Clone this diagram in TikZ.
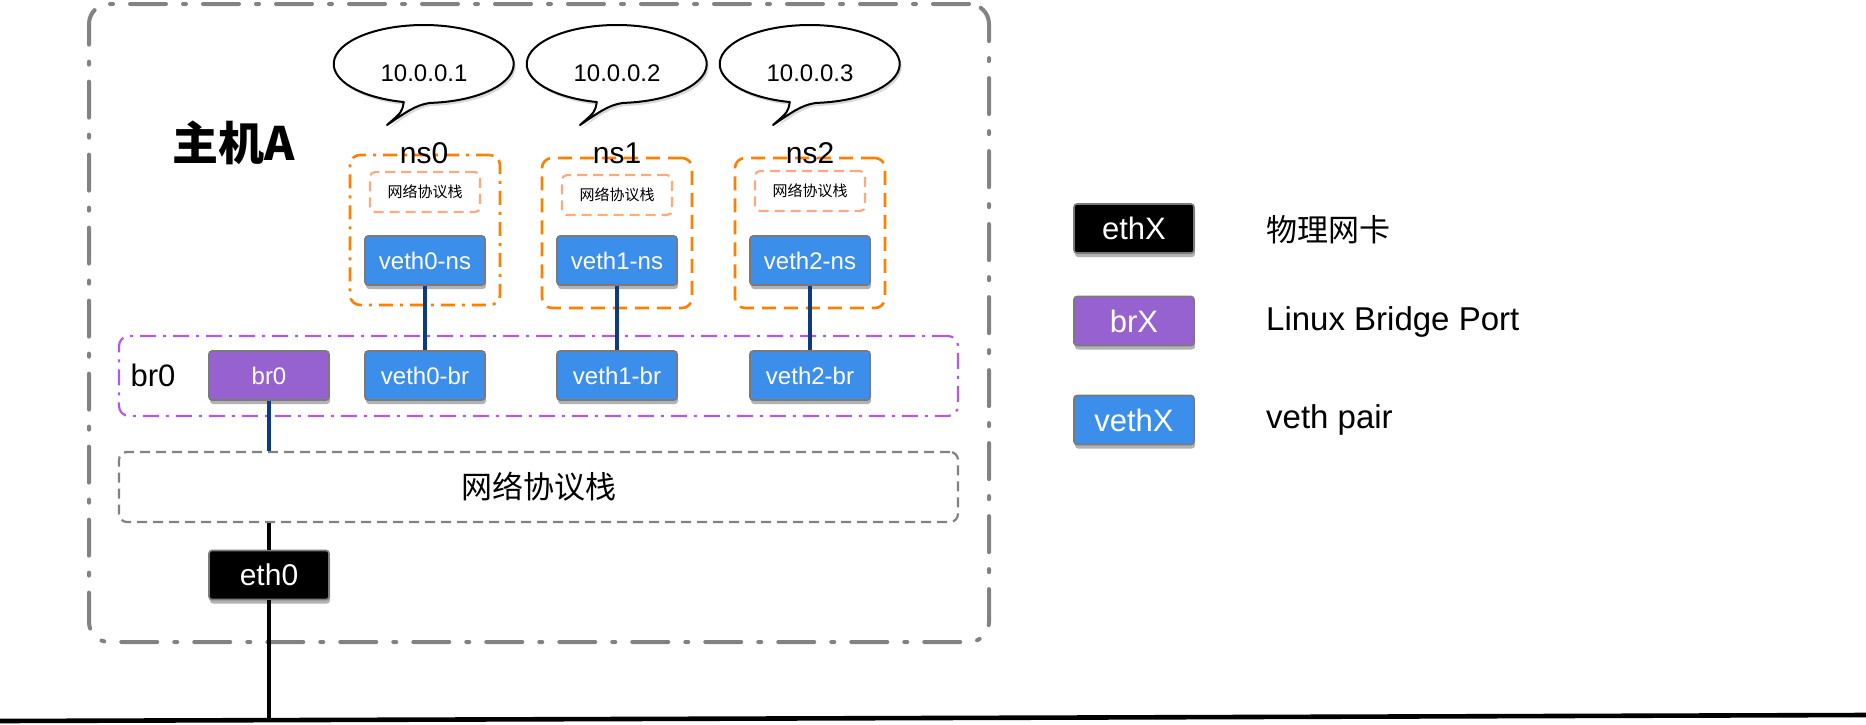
\documentclass[tikz,border=0pt]{standalone}
\usepackage{fontspec}
\setmainfont{Liberation Sans}
\newfontfamily\cjk{Noto Sans CJK SC}
\usetikzlibrary{shadows}
\definecolor{boxblue}{HTML}{3C8EEB}
\definecolor{boxpurple}{HTML}{9562CF}
\definecolor{boxgray}{HTML}{7A7A7A}
\definecolor{hostgray}{HTML}{828282}
\definecolor{nsorange}{HTML}{FF8000}
\definecolor{lightorange}{HTML}{FBAA80}
\definecolor{brpurple}{HTML}{B05BE6}
\definecolor{navy}{HTML}{0B3C7D}
\newcommand\fs[1]{\fontsize{#1}{#1}\selectfont}
\newcommand\ipbubble[3]{%
  \begin{scope}[shift={(#1,64)}]
    \draw[bubble] (6,38.9) arc[start angle=86, end angle=-257.2, x radius=90, y radius=39]
      .. controls (-22,48) .. (-37,61) .. controls (-19,49) and (-9,41) .. cycle;
    \node[iptext] (#2) at (0,9) {#3};
  \end{scope}}
\tikzset{
  port/.style={draw=boxgray, line width=1.6pt, rounded corners=3pt,
    minimum width=120pt, minimum height=49pt, inner sep=0pt, text=white,
    font=\fs{24},
    drop shadow={shadow xshift=1pt, shadow yshift=-4pt, opacity=0.3, fill=black}},
  vethbox/.style={port, fill=boxblue},
  brbox/.style={port, fill=boxpurple},
  ethbox/.style={port, fill=black, font=\fs{30}},
  legbox/.style={port, font=\fs{31}},
  hostbox/.style={draw=hostgray, line width=4pt, rounded corners=20pt, line cap=round,
    dash pattern=on 36pt off 17pt on 3pt off 17pt, inner sep=0pt},
  nsbox/.style={draw=nsorange, line width=2.6pt, rounded corners=10pt, inner sep=0pt,
    minimum width=150pt, minimum height=150pt},
  nsdashdot/.style={nsbox, dash pattern=on 14pt off 7pt on 3pt off 7pt},
  nsdashed/.style={nsbox, dash pattern=on 14pt off 8pt},
  stackbox/.style={draw=lightorange, line width=2.2pt, rounded corners=5pt, inner sep=0pt,
    dash pattern=on 10pt off 6pt, minimum width=110pt, minimum height=40pt,
    font=\cjk\fs{15}},
  brcontainer/.style={draw=brpurple, line width=2.2pt, rounded corners=10pt, inner sep=0pt,
    dash pattern=on 16pt off 7pt on 3pt off 7pt},
  hoststack/.style={draw=hostgray, line width=2.2pt, rounded corners=8pt, inner sep=0pt,
    dash pattern=on 10pt off 6pt, font=\cjk\fs{31}},
  bubble/.style={draw=black, line width=2pt, fill=white, line join=round,
    drop shadow={shadow xshift=2pt, shadow yshift=-3pt, opacity=0.15, fill=black}},
  iptext/.style={font=\fs{24}, inner sep=0pt},
  label/.style={font=\fs{30}, inner sep=0pt},
  legtext/.style={anchor=west, inner sep=0pt, font=\fs{33}},
  navyline/.style={draw=navy, line width=3.6pt},
  blackline/.style={draw=black, line width=3.6pt},
}
\begin{document}
\begin{tikzpicture}[x=1pt,y=-1pt]
\useasboundingbox[fill=white] (0,0) rectangle (1866,724);

% host box
\node[hostbox, minimum width=900pt, minimum height=638pt] (host) at (539,323) {};
\node[font=\cjk\bfseries\fs{46}, inner sep=0pt] (hostlabel) at (234,143) {主机A};

% bubbles
\ipbubble{424}{ip0}{10.0.0.1}
\ipbubble{617}{ip1}{10.0.0.2}
\ipbubble{810}{ip2}{10.0.0.3}

% namespaces
\node[nsdashdot] (ns0box) at (425,230) {};
\node[nsdashed] (ns1box) at (617,233) {};
\node[nsdashed] (ns2box) at (810,233) {};
\node[label] (ns0) at (424,153) {ns0};
\node[label] (ns1) at (617,153) {ns1};
\node[label] (ns2) at (810,153) {ns2};
\node[stackbox] (st0) at (425,192) {网络协议栈};
\node[stackbox] (st1) at (617,195) {网络协议栈};
\node[stackbox] (st2) at (810,191) {网络协议栈};
\node[vethbox] (vns0) at (425,260.5) {veth0-ns};
\node[vethbox] (vns1) at (617,260.5) {veth1-ns};
\node[vethbox] (vns2) at (810,260.5) {veth2-ns};

% bridge
\node[brcontainer, minimum width=839pt, minimum height=80pt] (brc) at (538.5,376) {};
\node[label, font=\fs{31}] (brlabel) at (153,375) {br0};
\node[brbox] (br0) at (269,375.5) {br0};
\node[vethbox] (vbr0) at (425,375.5) {veth0-br};
\node[vethbox] (vbr1) at (617,375.5) {veth1-br};
\node[vethbox] (vbr2) at (810,375.5) {veth2-br};

% host stack
\node[hoststack, minimum width=839pt, minimum height=70pt] (stack) at (538.5,487) {网络协议栈};

% eth0
\node[ethbox] (eth0) at (269,575) {eth0};

% connectors
\draw[navyline] (vns0.south) -- (vbr0.north);
\draw[navyline] (vns1.south) -- (vbr1.north);
\draw[navyline] (vns2.south) -- (vbr2.north);
\draw[navyline] (br0.south) -- (br0.south |- stack.north);
\draw[blackline] (eth0.north |- stack.south) -- (eth0.north);
\coordinate (gnd) at (269,720);
\draw[blackline] (eth0.south) -- (gnd);
\coordinate (gl) at (0,721);
\coordinate (gr) at (1866,715);
\draw[line width=4.6pt] (gl) -- (gr);

% legend
\node[legbox, fill=black] (leth) at (1134,228.5) {ethX};
\node[legbox, fill=boxpurple] (lbr) at (1134,321) {brX};
\node[legbox, fill=boxblue] (lveth) at (1134,420) {vethX};
\node[legtext, font=\cjk\fs{31}] (teth) at (1266,230) {物理网卡};
\node[legtext] (tbr) at (1266,322) {Linux Bridge Port};
\node[legtext] (tveth) at (1266,420) {veth pair};
\end{tikzpicture}
\end{document}
